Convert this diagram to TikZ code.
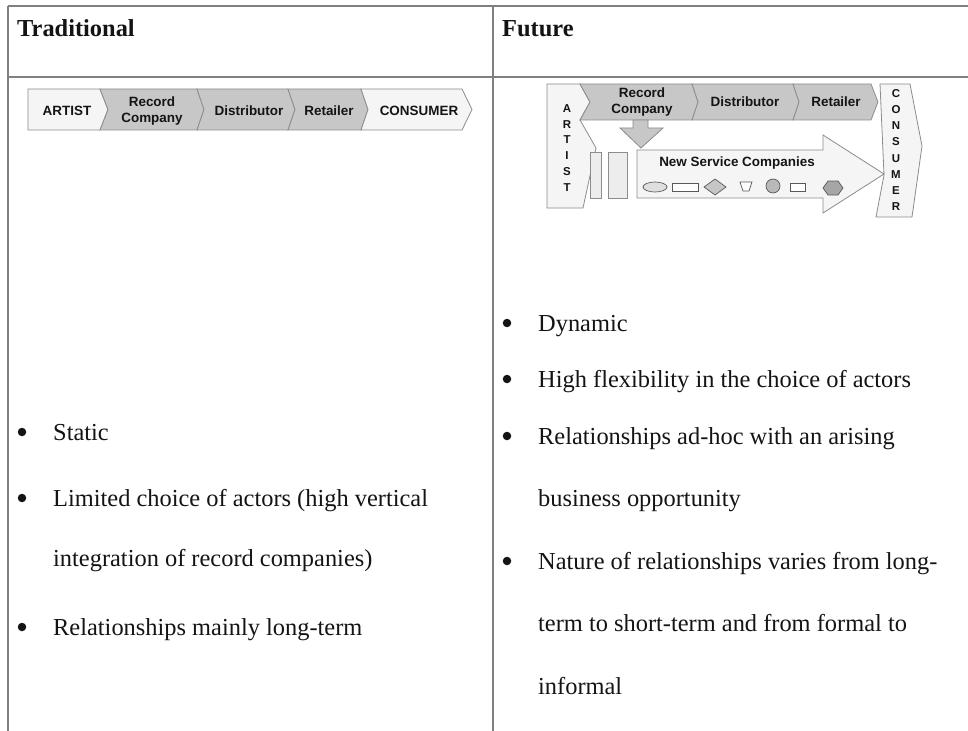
\documentclass[tikz,border=0pt]{standalone}
\usepackage{fontspec}
\setmainfont{Liberation Serif}
\newfontfamily\diagfont{Liberation Sans}
\usetikzlibrary{shapes.geometric}
\definecolor{rule}{gray}{0.5}
\definecolor{edge}{gray}{0.55}
\definecolor{ink}{gray}{0.08}
\definecolor{lightfill}{gray}{0.96}
\definecolor{midfill}{gray}{0.78}
\tikzset{
  tablerule/.style={draw=rule, line width=1.5bp},
  chev/.style={draw=edge, line width=0.8bp, line join=miter},
  endfill/.style={chev, fill=lightfill},
  stagefill/.style={chev, fill=midfill},
  lbl/.style={font=\diagfont\bfseries\fontsize{13.5}{16.5}\selectfont, text=ink, align=center, inner sep=0pt},
  vlbl/.style={font=\diagfont\bfseries\fontsize{11.5}{16}\selectfont, text=ink, align=center, inner sep=0pt},
  body/.style={font=\fontsize{24.5}{28}\selectfont, text=ink, anchor=base west, inner sep=0pt},
  head/.style={font=\bfseries\fontsize{24.5}{28}\selectfont, text=ink, anchor=base west, inner sep=0pt},
  bul/.style={circle, fill=ink, inner sep=0pt, minimum size=8.5bp},
  shp/.style={draw=gray!70!black, line width=0.7bp},
}
\begin{document}
\begin{tikzpicture}[x=1bp, y=-1bp]
\useasboundingbox (0,0) rectangle (968,731);
\fill[white] (0,0) rectangle (968,731);

% table frame
\draw[tablerule] (8,6) -- (968,6);
\draw[tablerule] (8,77) -- (968,77);
\draw[tablerule] (8,6) -- (8,731);
\draw[tablerule] (493,6) -- (493,731);

% column headings
\node[head] (hTrad) at (17,37) {Traditional};
\node[head] (hFut) at (502,37) {Future};

% ---- traditional value chain ----
\draw[endfill]   (28,89) -- (100,89) -- (108,109.5) -- (100,130) -- (28,130) -- cycle;
\draw[stagefill] (100,89) -- (197,89) -- (204,109.5) -- (197,130) -- (100,130) -- (108,109.5) -- cycle;
\draw[stagefill] (197,89) -- (288,89) -- (295,109.5) -- (288,130) -- (197,130) -- (204,109.5) -- cycle;
\draw[stagefill] (288,89) -- (361,89) -- (368,109.5) -- (361,130) -- (288,130) -- (295,109.5) -- cycle;
\draw[endfill]   (361,89) -- (462,89) -- (472,109.5) -- (462,130) -- (361,130) -- (368,109.5) -- cycle;
\node[lbl] (tArtist) at (67,111) {ARTIST};
\node[lbl] (tRecord) at (152,111) {Record\\Company};
\node[lbl] (tDist) at (249,111) {Distributor};
\node[lbl] (tRet) at (329,111) {Retailer};
\node[lbl] (tCons) at (419,111) {CONSUMER};

% ---- future value network ----
% artist column
\draw[endfill] (547,84) -- (580,84) -- (590,102) -- (580,120) -- (596,148) -- (583,208) -- (547,208) -- cycle;
\node[vlbl] (fArtist) at (567,148) {A\\R\\T\\I\\S\\T};
% consumer column
\draw[endfill] (880,84) -- (910,84) -- (922,146) -- (912,217) -- (876,217) -- (884,175) -- cycle;
\node[vlbl, font=\diagfont\bfseries\fontsize{11.5}{16.3}\selectfont] (fCons) at (896,150) {C\\O\\N\\S\\U\\M\\E\\R};
% chain stages
\draw[stagefill] (580,84) -- (692,84) -- (698,102) -- (692,120) -- (580,120) -- (590,102) -- cycle;
\draw[stagefill] (692,84) -- (793,84) -- (799,102) -- (793,120) -- (692,120) -- (698,102) -- cycle;
\draw[stagefill] (793,84) -- (871,84) -- (878,102) -- (871,120) -- (793,120) -- (799,102) -- cycle;
\node[lbl] (fRecord) at (642,102) {Record\\Company};
\node[lbl] (fDist) at (745,102) {Distributor};
\node[lbl] (fRet) at (836,102) {Retailer};
% spin-off arrow from the record company
\draw[chev, fill=midfill] (633,120) -- (648,120) -- (648,128) -- (663,128) -- (641,148) -- (620,128) -- (633,128) -- cycle;
% intermediaries
\draw[chev, fill=gray!14] (590,152) rectangle (601,198);
\draw[chev, fill=gray!14] (608,152) rectangle (627,198);
% new service companies arrow
\draw[chev, fill=lightfill] (637,150) -- (823,150) -- (823,135) -- (884,174) -- (823,213) -- (823,198) -- (637,198) -- cycle;
\node[lbl] (nsc) at (737,163) {New Service Companies};
% assorted service providers
\draw[shp, fill=gray!25] (655,187) ellipse [x radius=12, y radius=5];
\draw[shp, fill=white] (672,183) rectangle (698,191);
\draw[shp, fill=gray!45] (704,187) -- (715,179) -- (726,187) -- (715,195) -- cycle;
\draw[shp, fill=white] (740,182) -- (752,182) -- (749,191) -- (743,191) -- cycle;
\draw[shp, fill=gray!55] (773,186) circle [radius=7];
\draw[shp, fill=white] (790,183) rectangle (805,191);
\draw[shp, fill=gray!70] (823,188) -- (828,181) -- (838,181) -- (843,188) -- (838,195) -- (828,195) -- cycle;

% ---- traditional characteristics ----
\node[bul] (lb1) at (22,432) {};
\node[body] (l1) at (53,440) {Static};
\node[bul] (lb2) at (22,498) {};
\node[body] (l2) at (53,506) {Limited choice of actors (high vertical};
\node[body] (l2b) at (53,566) {integration of record companies)};
\node[bul] (lb3) at (22,627) {};
\node[body] (l3) at (53,635) {Relationships mainly long-term};

% ---- future characteristics ----
\node[bul] (rb1) at (507,323) {};
\node[body] (r1) at (538,331) {Dynamic};
\node[bul] (rb2) at (507,379) {};
\node[body] (r2) at (538,387) {High flexibility in the choice of actors};
\node[bul] (rb3) at (507,436) {};
\node[body] (r3) at (538,444) {Relationships ad-hoc with an arising};
\node[body] (r3b) at (538,506) {business opportunity};
\node[bul] (rb4) at (507,561) {};
\node[body] (r4) at (538,569) {Nature of relationships varies from long-};
\node[body] (r4b) at (538,631) {term to short-term and from formal to};
\node[body] (r4c) at (538,694) {informal};
\end{tikzpicture}
\end{document}
